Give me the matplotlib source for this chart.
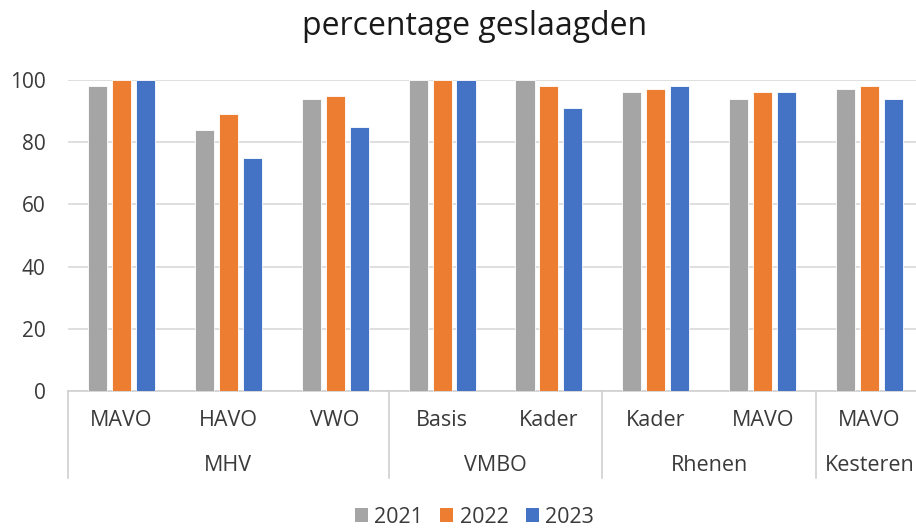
import numpy as np
import matplotlib
matplotlib.use("Agg")
import matplotlib.pyplot as plt
from matplotlib.patches import Patch

groups = ["MHV", "VMBO", "Rhenen", "Kesteren"]
group_sizes = [3, 2, 2, 1]
levels = ["MAVO", "HAVO", "VWO", "Basis", "Kader", "Kader", "MAVO", "MAVO"]
years = ["2021", "2022", "2023"]
y2021 = [98, 84, 94, 100, 100, 96, 94, 97]
y2022 = [100, 89, 95, 100, 98, 97, 96, 98]
y2023 = [100, 75, 85, 100, 91, 98, 96, 94]
colors = ["#a5a5a5", "#ed7d31", "#4472c4"]
TXT = "#3a3a3a"

plt.rcParams["font.family"] = ["Open Sans", "DejaVu Sans"]
fig = plt.figure(figsize=(9.16, 5.29), dpi=100)
ax = fig.add_axes([68 / 916, 138 / 529, 855 / 916, 311 / 529])

x = np.arange(len(levels))
pitch, w = 0.224, 0.178
for i, (vals, c) in enumerate(zip([y2021, y2022, y2023], colors)):
    ax.bar(x + (i - 1) * pitch, vals, w, color=c, edgecolor="white", linewidth=0.6, zorder=3)

ax.set_xlim(-0.5, len(levels) - 0.5)
ax.set_ylim(0, 100)
ax.set_yticks(range(0, 101, 20))
ax.tick_params(axis="y", length=0, labelsize=15, pad=16, colors=TXT)
ax.set_xticks([])
ax.grid(axis="y", color="#d9d9d9", linewidth=1.2, zorder=0)
for s in ["top", "right", "left"]:
    ax.spines[s].set_visible(False)
ax.spines["bottom"].set_color("#d0d0d0")
ax.spines["bottom"].set_linewidth(1.2)

tr = ax.get_xaxis_transform()
for xi, lab in zip(x, levels):
    ax.text(xi, -0.096, lab, transform=tr, ha="center", va="center", fontsize=15.5, color=TXT)
start = 0
bounds = [-0.5]
for g, n in zip(groups, group_sizes):
    ax.text(start + (n - 1) / 2, -0.241, g, transform=tr, ha="center", va="center", fontsize=15.5, color=TXT)
    start += n
    bounds.append(start - 0.5)
for b in bounds:
    ax.plot([b, b], [0, -0.28], transform=tr, color="#d0d0d0", linewidth=1.2, clip_on=False)

fig.text(0.518, 0.949, "percentage geslaagden", ha="center", va="center", fontsize=23, color="#1a1a1a")
handles = [Patch(facecolor=c, edgecolor="none") for c in colors]
fig.legend(handles, years, loc="center", bbox_to_anchor=(0.518, 0.022), ncol=3, frameon=False,
           fontsize=15.5, handlelength=0.6, handleheight=0.6, handletextpad=0.3, columnspacing=0.8,
           labelcolor=TXT)

fig.savefig("out.png", dpi=100, facecolor="white")
